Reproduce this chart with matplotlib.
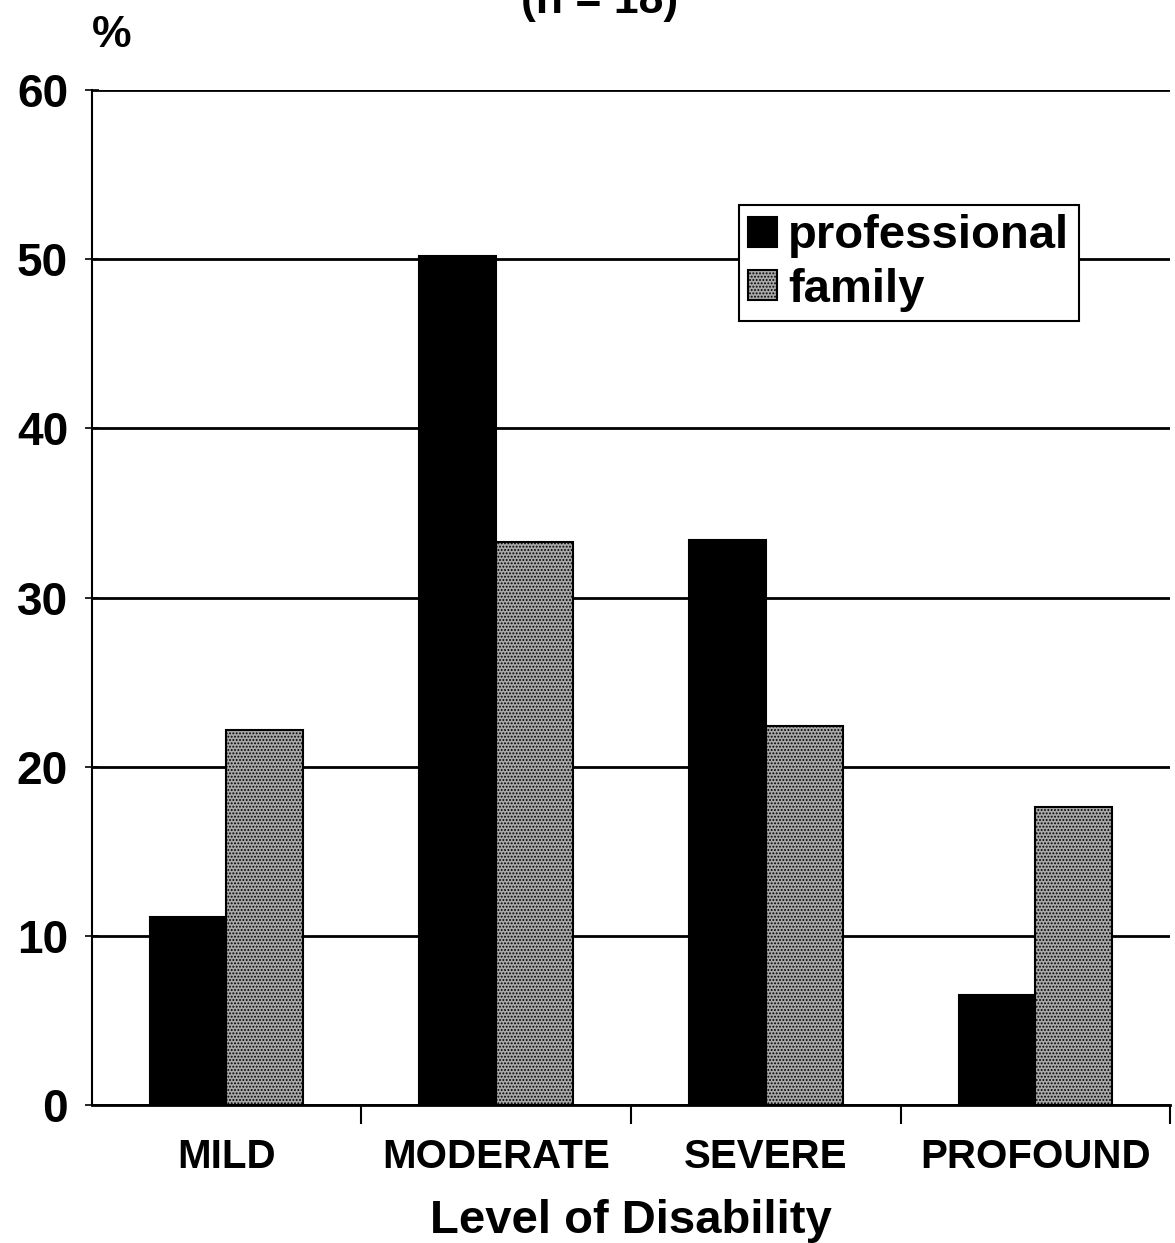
import matplotlib
matplotlib.use("Agg")
import matplotlib.pyplot as plt
import numpy as np

categories = ["MILD", "MODERATE", "SEVERE", "PROFOUND"]
professional = [11.1, 50.2, 33.4, 6.5]
family = [22.2, 33.3, 22.4, 17.6]
yticks = [0, 10, 20, 30, 40, 50, 60]

plt.rcParams['font.family'] = ['Liberation Sans', 'DejaVu Sans']
plt.rcParams['hatch.color'] = '#4a4a4a'
plt.rcParams['hatch.linewidth'] = 0.9

fig = plt.figure(figsize=(11.75, 12.43), dpi=100)
ax = fig.add_axes([0.078, 0.111, 0.918, 0.8165])

x = np.arange(len(categories)) + 0.5
w = 0.285
ax.bar(x - w / 2, professional, w, color='black', edgecolor='black', linewidth=1.5,
       label='professional', zorder=3)
ax.bar(x + w / 2, family, w, color='#a8a8a8', edgecolor='black', linewidth=1.5,
       hatch='.....', label='family', zorder=3)

ax.set_xlim(0, 4)
ax.set_ylim(0, 60)
ax.set_yticks(yticks)
ax.set_yticklabels([str(t) for t in yticks], fontsize=33, fontweight='bold')
ax.yaxis.grid(True, color='black', linewidth=2, zorder=1)
ax.set_axisbelow(True)

ax.set_xticks([1, 2, 3, 4])
ax.set_xticklabels([])
ax.set_xticks(x, minor=True)
ax.set_xticklabels(categories, minor=True, fontsize=29, fontweight='bold')
ax.tick_params(axis='x', which='major', direction='out', length=14, width=1.5)
ax.tick_params(axis='x', which='minor', length=0, pad=24)
ax.tick_params(axis='y', direction='inout', length=10, width=1.2, pad=12)

for s in ['top', 'right']:
    ax.spines[s].set_visible(False)
ax.spines['left'].set_linewidth(1.5)
ax.spines['bottom'].set_linewidth(2)

ax.set_xlabel('Level of Disability', fontsize=34, fontweight='bold', labelpad=16)

fig.text(0.078, 0.955, '%', fontsize=32, fontweight='bold', ha='left', va='bottom')
fig.text(0.51, 0.982, '(n = 18)', fontsize=32, fontweight='bold', ha='center', va='bottom')

leg = ax.legend(loc='upper left', bbox_to_anchor=(0.60, 0.887),
                prop={'weight': 'bold', 'size': 34}, frameon=True, fancybox=False,
                edgecolor='black', framealpha=1, handlelength=0.6, handleheight=0.6,
                handletextpad=0.25, borderpad=0.2, labelspacing=0.2,
                borderaxespad=0)
leg.get_frame().set_linewidth(1.5)

fig.savefig('out.png', dpi=100, facecolor='white')
